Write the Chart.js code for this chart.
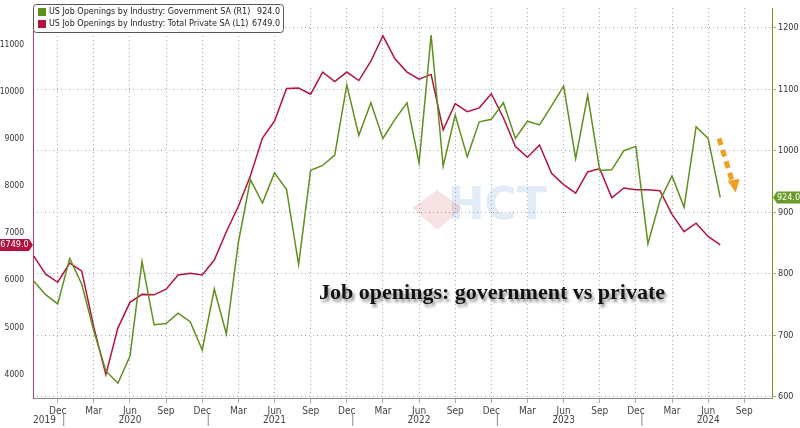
<!DOCTYPE html>
<html><head><meta charset="utf-8">
<script src="https://cdn.jsdelivr.net/npm/chart.js@4/dist/chart.umd.min.js"></script>
<style>html,body{margin:0;background:#fff}#w{width:800px;height:428px}</style>
</head><body><div id="w"><canvas id="c"></canvas></div>
<script>
// Months from Oct 2019 to Jul 2024 (index 0 = Oct 2019)
const startYear = 2019, startMonth = 9; // 0-based month (Oct)
const privateSA = [6517,6130,5957,6366,6194,5000,4000,4990,5530,5700,5690,5810,6110,6150,6110,6430,7030,7570,8220,9020,9380,10070,10080,9950,10420,10220,10420,10240,10650,11190,10700,10420,10270,10370,9190,9750,9580,9660,9960,9450,8840,8610,8870,8270,8030,7850,8300,8370,7750,7960,7920,7920,7900,7400,7030,7210,6930,6749];
const governmentSA = [788,766,751,825,783,707,642,622,666,820,717,719,736,722,676,775,702,851,953,915,964,937,815,968,976,993,1107,1025,1078,1020,1051,1078,980,1188,975,1058,990,1047,1051,1078,1020,1048,1042,1073,1105,987,1090,968,969,1000,1007,849,919,959,908,1039,1020,924];
const monthNames = ['Jan','Feb','Mar','Apr','May','Jun','Jul','Aug','Sep','Oct','Nov','Dec'];
const leftTicks = [4000,5000,6000,7000,8000,9000,10000,11000];
const rightTicks = [600,700,800,900,1000,1100,1200];
const years = ['2019','2020','2021','2022','2023','2024'];
const legendLabels = ['US Job Openings by Industry: Government SA (R1)','US Job Openings by Industry: Total Private SA (L1)'];
const legendValues = ['924.0','6749.0'];
const RED = '#b5123f', GREEN = '#5f8f1e';

const pts = a => a.map((v,i)=>({x:i,y:v}));
const monthOf = i => (startMonth + i) % 12;

const deco = {
  id:'deco',
  beforeDatasetsDraw(ch){
    const c=ch.ctx, x=ch.scales.x;
    c.save(); c.globalAlpha=0.15;
    c.font='bold 44px "DejaVu Sans"'; c.fillStyle='#3f7fc0'; c.textAlign='center'; c.textBaseline='middle';
    c.fillText('HCT', x.getPixelForValue(38.5), 208);
    c.fillStyle='#c44'; c.beginPath();
    const hx=x.getPixelForValue(33.5); c.moveTo(hx-25,208);c.lineTo(hx,190);c.lineTo(hx+25,208);c.lineTo(hx,230);c.closePath();c.fill();
    c.restore();
  },
  afterDraw(ch){
    const c=ch.ctx, x=ch.scales.x, yL=ch.scales.yL, yR=ch.scales.yR, ca=ch.chartArea;
    c.save();
    c.font='10px "DejaVu Sans Condensed", "DejaVu Sans"'; c.fillStyle='#444'; c.textAlign='center'; c.textBaseline='top';
    years.forEach(y=>{
      const yr=+y; let idx=(yr-startYear)*12+5-startMonth;
      if(idx<0) idx=0.9;
      c.fillText(y, x.getPixelForValue(idx), ca.bottom+17);
      const sx=x.getPixelForValue((yr-startYear)*12+11.5-startMonth);
      if(sx<ca.right){c.strokeStyle='#888';c.lineWidth=1;c.beginPath();c.moveTo(sx,ca.bottom+16);c.lineTo(sx,ca.bottom+28);c.stroke();}
    });
    c.font='bold 22px "Liberation Serif"'; c.textAlign='left'; c.textBaseline='alphabetic';
    c.shadowColor='rgba(0,0,0,0.45)'; c.shadowOffsetX=2; c.shadowOffsetY=3; c.shadowBlur=3;
    c.fillStyle='#111'; c.fillText('Job openings: government vs private', x.getPixelForValue(23.7), 299);
    c.shadowColor='transparent';
    const ax1=x.getPixelForValue(56.9), ay1=yR.getPixelForValue(1020), ax2=x.getPixelForValue(58.2), ay2=yR.getPixelForValue(935);
    c.strokeStyle='#f0a020'; c.lineWidth=5; c.setLineDash([7,5]); c.beginPath(); c.moveTo(ax1,ay1); c.lineTo(ax2-2,ay2-8); c.stroke(); c.setLineDash([]);
    c.fillStyle='#f0a020'; c.beginPath(); c.moveTo(ax2+1,ay2+2); c.lineTo(ax2-7,ay2-10); c.lineTo(ax2+5,ay2-12); c.closePath(); c.fill();
    c.fillStyle='#fff'; c.strokeStyle='#555'; c.lineWidth=1;
    c.beginPath(); c.roundRect(33.5,4.5,250,28,3); c.fill(); c.stroke();
    c.font='8px "DejaVu Sans"'; c.textBaseline='middle';
    [[GREEN,0],[RED,1]].forEach(([col,k])=>{
      const yy=12+k*12;
      c.fillStyle=col; c.fillRect(38,yy-4,8,8);
      c.fillStyle='#222'; c.textAlign='left'; c.fillText(legendLabels[k],49,yy);
      c.textAlign='right'; c.fillText(legendValues[k],280,yy);
    });
    const tag=(txt,col,xx,yy,w,left)=>{
      c.fillStyle=col; c.beginPath();
      if(left){c.moveTo(xx,yy-6);c.lineTo(xx+w,yy-6);c.lineTo(xx+w+4,yy);c.lineTo(xx+w,yy+6);c.lineTo(xx,yy+6);}
      else{c.moveTo(xx+4,yy-6);c.lineTo(xx+w,yy-6);c.lineTo(xx+w,yy+6);c.lineTo(xx+4,yy+6);c.lineTo(xx,yy);}
      c.closePath(); c.fill();
      c.fillStyle='#fff'; c.font='9px "DejaVu Sans Condensed", "DejaVu Sans"'; c.textAlign='center'; c.textBaseline='middle';
      c.fillText(txt, left? xx+w/2 : xx+4+(w-4)/2, yy);
    };
    tag(legendValues[1],RED,0,yL.getPixelForValue(privateSA[privateSA.length-1]),29,true);
    tag(legendValues[0],'#6a9a25',ca.right+1,yR.getPixelForValue(governmentSA[governmentSA.length-1]),27,false);
    c.restore();
  }
};

new Chart(document.getElementById('c'),{
  type:'line',
  data:{datasets:[
    {label:legendLabels[0],data:pts(governmentSA),yAxisID:'yR',borderColor:GREEN,borderWidth:1.5,pointRadius:0,tension:0},
    {label:legendLabels[1],data:pts(privateSA),yAxisID:'yL',borderColor:RED,borderWidth:1.5,pointRadius:0,tension:0}
  ]},
  options:{
    responsive:true,maintainAspectRatio:false,animation:false,
    layout:{padding:{top:8,left:0,right:0,bottom:0}},
    plugins:{legend:{display:false},tooltip:{enabled:false}},
    scales:{
      x:{type:'linear',min:-0.05,max:61.3,
        afterBuildTicks(s){const t=[];for(let i=2;i<=61;i+=3)t.push({value:i});s.ticks=t;},
        ticks:{autoSkip:false,maxRotation:0,font:{size:10,family:'"DejaVu Sans Condensed", "DejaVu Sans"'},color:'#444',padding:2,
          callback:v=>monthNames[monthOf(v)]},
        grid:{color:'#aaa',lineWidth:1,tickLength:5},
        border:{color:'#888',dash:[1,3]},
        afterFit(s){s.height=30;}
      },
      yL:{position:'left',min:3500,max:11780,
        afterBuildTicks(s){s.ticks=leftTicks.map(v=>({value:v}));},
        ticks:{font:{size:8.5,family:'"DejaVu Sans Condensed", "DejaVu Sans"'},color:'#333',padding:1,callback:v=>String(v)},
        grid:{display:false},
        border:{color:'#c04060'},
        afterFit(s){s.width=33;}
      },
      yR:{position:'right',min:598,max:1232,
        afterBuildTicks(s){s.ticks=rightTicks.map(v=>({value:v}));},
        ticks:{font:{size:9,family:'"DejaVu Sans Condensed", "DejaVu Sans"'},color:'#333',padding:2,callback:v=>String(v)},
        grid:{color:'#aaa',tickLength:4},
        border:{color:'#6a9a25',dash:[1,3]},
        afterFit(s){s.width=28;}
      }
    }
  },
  plugins:[deco]
});
</script></body></html>
